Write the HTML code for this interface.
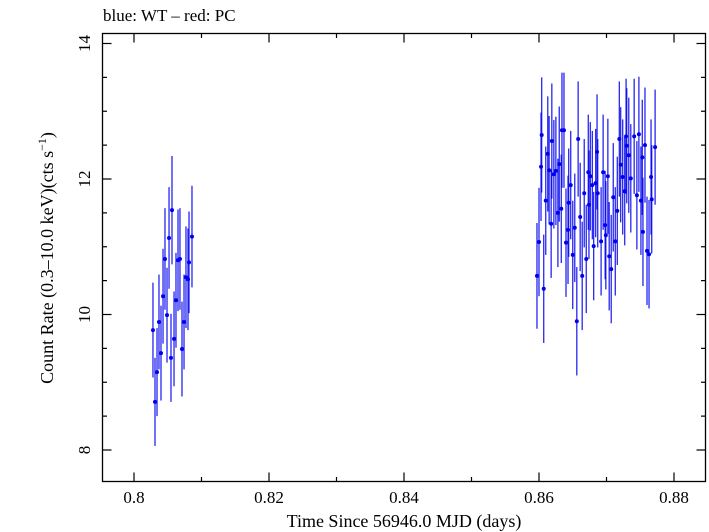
<!DOCTYPE html>
<html><head><meta charset="utf-8"><style>
html,body{margin:0;padding:0;background:#fff;}
svg{display:block;font-family:"Liberation Serif",serif;}
</style></head><body>
<svg id="chart" width="709" height="532" xmlns="http://www.w3.org/2000/svg">
<text x="103" y="21" font-size="17">blue: WT – red: PC</text>
<rect x="102.5" y="33.5" width="603" height="448" fill="none" stroke="#000" stroke-width="1.3"/>
<g id="axes"></g>
<g id="marks"></g>
<text x="404" y="527" font-size="18" text-anchor="middle">Time Since 56946.0 MJD (days)</text>
<text transform="translate(53,258) rotate(-90)" font-size="18" text-anchor="middle">Count Rate (0.3–10.0 keV)(cts s<tspan font-size="12" dy="-7">−1</tspan><tspan dy="7">)</tspan></text>
</svg>
<script>
const xTicks=[0.8,0.82,0.84,0.86,0.88];
const xTickLabels=["0.8","0.82","0.84","0.86","0.88"];
const yTicks=[8,10,12,14];
const yTickLabels=["8","10","12","14"];
const wtTime=[0.80281,0.80311,0.80341,0.80370,0.80400,0.80430,0.80459,0.80489,0.80519,0.80548,0.80563,0.80593,0.80622,0.80652,0.80681,0.80711,0.80741,0.80770,0.80800,0.80815,0.80859,
0.8597,0.8600,0.8603,0.8604,0.8607,0.8610,0.8613,0.8615,0.8618,0.8619,0.8622,0.8625,0.8628,0.8630,0.8633,0.8634,0.8637,0.8640,0.8643,0.8644,0.8647,0.8650,0.8653,0.8656,0.8658,0.8661,0.8664,0.8667,0.8670,0.8673,0.8674,0.8676,0.8679,0.8681,0.8684,0.8686,0.8687,
0.8692,0.8695,0.8698,0.8699,0.8702,0.8704,0.8707,0.8710,0.8713,0.8716,0.8719,0.8721,0.8724,0.8727,0.8729,0.8730,0.8733,0.8736,0.8741,0.8745,0.8748,0.8751,0.8753,0.8754,0.8757,0.8760,0.8763,0.8766,0.8767,0.8772];
const wtRate=[9.77,8.71,9.15,9.89,9.43,10.27,10.82,9.99,11.13,9.36,11.54,9.64,10.21,10.80,10.82,9.49,9.89,10.55,10.52,10.77,11.15,
10.57,11.07,12.18,12.65,10.38,11.68,12.37,12.13,11.34,12.56,12.07,12.12,11.50,12.22,11.56,12.72,12.72,11.06,11.25,11.65,11.91,10.88,11.28,9.90,12.59,11.44,10.57,11.79,10.82,12.10,11.62,12.04,11.91,11.01,11.94,12.40,11.79,
11.08,12.10,11.32,11.17,12.04,10.86,10.67,11.73,11.08,11.53,12.59,12.21,12.03,11.82,12.63,12.49,12.35,12.01,12.63,11.76,12.66,11.68,12.32,11.22,12.50,10.94,10.89,12.03,11.70,12.47];
const wtErr=[0.7,0.65,0.65,0.7,0.7,0.7,0.75,0.7,0.75,0.65,0.8,0.7,0.7,0.75,0.75,0.7,0.7,0.75,0.75,0.75,0.75,
0.78,0.8,0.8,0.85,0.8,0.8,0.85,0.8,0.8,0.85,0.8,0.8,0.8,0.85,0.8,0.85,0.85,0.8,0.8,0.8,0.8,0.8,0.8,0.8,0.85,0.8,0.8,0.8,0.8,0.85,0.8,0.8,0.8,0.8,0.8,0.85,0.8,
0.8,0.85,0.8,0.8,0.85,0.8,0.8,0.8,0.8,0.8,0.85,0.85,0.85,0.8,0.85,0.85,0.85,0.8,0.85,0.8,0.85,0.8,0.85,0.8,0.85,0.8,0.8,0.85,0.8,0.85];

const L=102.5,R=705.5,T=33.5,B=481.5;
function xs(v){return 134+(v-0.8)*6750;}
function ys(v){return 179-(v-12)*67.75;}
const NS="http://www.w3.org/2000/svg";
function mk(tag,attrs,parent){const e=document.createElementNS(NS,tag);for(const k in attrs)e.setAttribute(k,attrs[k]);parent.appendChild(e);return e;}
const axes=document.getElementById('axes'),marks=document.getElementById('marks');
xTicks.forEach((t,i)=>{
  const x=xs(t);
  const a=mk('line',{x1:x,x2:x,y1:B,y2:B-9,stroke:'#000','stroke-width':1.2},axes);
  
  
  const b=mk('line',{x1:x,x2:x,y1:T,y2:T+9,stroke:'#000','stroke-width':1.2},axes);
  
  
  const tx=mk('text',{x:x,y:503,'font-size':17,'text-anchor':'middle'},axes);
  tx.textContent=xTickLabels[i];
  
  
  const m=t+0.01;
  if(xs(m)<R){
    const c=mk('line',{x1:xs(m),x2:xs(m),y1:B,y2:B-4.5,stroke:'#000','stroke-width':1.2},axes);
    
    
    const d=mk('line',{x1:xs(m),x2:xs(m),y1:T,y2:T+4.5,stroke:'#000','stroke-width':1.2},axes);
    
    
  }
});
const m0=xs(0.79);
if(m0>L){const c=mk('line',{x1:m0,x2:m0,y1:B,y2:B-4.5,stroke:'#000','stroke-width':1.2},axes);

}
yTicks.forEach((t,i)=>{
  const y=ys(t);
  const a=mk('line',{x1:L,x2:L+9,y1:y,y2:y,stroke:'#000','stroke-width':1.2},axes);
  
  
  const b=mk('line',{x1:R,x2:R-9,y1:y,y2:y,stroke:'#000','stroke-width':1.2},axes);
  
  
  const tx=mk('text',{transform:`translate(90,${y}) rotate(-90)`,'font-size':17,'text-anchor':'middle'},axes);
  tx.textContent=yTickLabels[i];
  
  
});
for(let v=7.5;v<=14.5;v+=0.5){
  if(v%2===0)continue;
  const y=ys(v);if(y<T||y>B)continue;
  const a=mk('line',{x1:L,x2:L+4.5,y1:y,y2:y,stroke:'#000','stroke-width':1.2},axes);
  
  
  const b=mk('line',{x1:R,x2:R-4.5,y1:y,y2:y,stroke:'#000','stroke-width':1.2},axes);
  
  
}
wtTime.forEach((t,i)=>{
  const x=xs(t),y=ys(wtRate[i]);
  const e=mk('line',{x1:x,x2:x,y1:ys(wtRate[i]+wtErr[i]),y2:ys(wtRate[i]-wtErr[i]),stroke:'#0000ee','stroke-width':1.3,'stroke-opacity':0.85},marks);
  
  
  const p=mk('circle',{cx:x,cy:y,r:2,fill:'#0000ee'},marks);
  
  
});
</script>
</body></html>
